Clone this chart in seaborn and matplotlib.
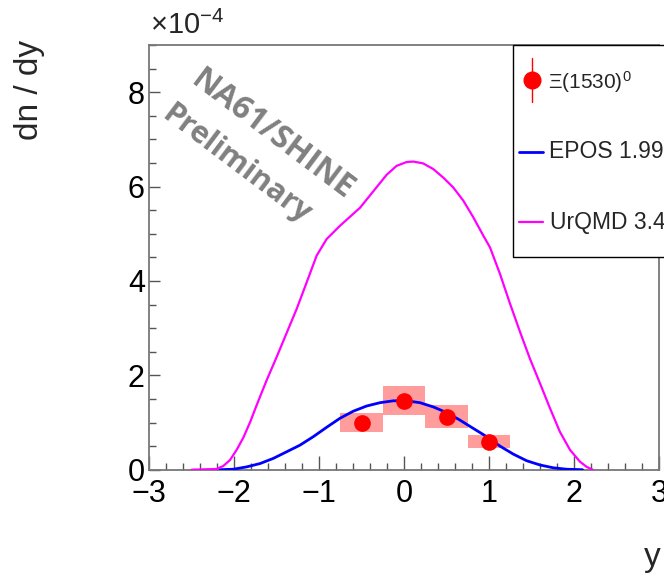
import numpy as np
import pandas as pd
import matplotlib
matplotlib.use("Agg")
import matplotlib.pyplot as plt
from matplotlib.ticker import MultipleLocator
from matplotlib.lines import Line2D
from matplotlib.patches import Rectangle
import seaborn as sns

# ---- data (dn/dy in units of 1e-4) ----
data_y = [-0.5, 0.0, 0.5, 1.0]
data_val = [1.00, 1.465, 1.125, 0.595]
data_stat = [0.04, 0.05, 0.04, 0.03]
data_sys = [0.20, 0.30, 0.245, 0.135]
box_halfwidth = 0.25

epos_x = [-2.165, -2.008, -1.85, -1.694, -1.537, -1.38, -1.224, -1.067, -0.909,
          -0.753, -0.596, -0.439, -0.282, -0.125, 0.031, 0.188, 0.345, 0.502,
          0.659, 0.815, 0.973, 1.129, 1.286, 1.443, 1.6, 1.757, 1.914, 2.10]
epos_v = [0.00, 0.01, 0.06, 0.13, 0.24, 0.38, 0.52, 0.70, 0.90,
          1.09, 1.24, 1.35, 1.42, 1.46, 1.46, 1.42, 1.33, 1.21,
          1.05, 0.875, 0.70, 0.50, 0.33, 0.19, 0.10, 0.04, 0.01, 0.00]

urqmd_x = [-2.498, -2.204, -2.125, -2.047, -1.969, -1.89, -1.81, -1.733, -1.615,
           -1.498, -1.38, -1.262, -1.145, -1.027, -0.909, -0.753, -0.518, -0.361,
           -0.204, -0.086, 0.031, 0.11, 0.227, 0.345, 0.462, 0.58, 0.698, 0.815,
           0.933, 1.012, 1.129, 1.247, 1.365, 1.482, 1.6, 1.718, 1.835, 1.953,
           2.07, 2.149, 2.22]
urqmd_v = [0.00, 0.015, 0.08, 0.205, 0.42, 0.68, 1.01, 1.37, 1.90,
           2.39, 2.90, 3.41, 3.97, 4.54, 4.89, 5.17, 5.55, 5.90,
           6.25, 6.44, 6.52, 6.53, 6.49, 6.37, 6.19, 5.98, 5.70, 5.35,
           4.96, 4.71, 4.15, 3.52, 2.92, 2.35, 1.83, 1.30, 0.80, 0.42,
           0.17, 0.06, 0.00]

label_data = r"$\Xi(1530)^{0}$"
label_epos = "EPOS 1.99"
label_urqmd = "UrQMD 3.4"

# ---- style ----
sns.set_theme(style="white")
plt.rcParams["font.family"] = ["Liberation Sans", "DejaVu Sans"]
plt.rcParams["mathtext.fontset"] = "custom"
plt.rcParams["mathtext.rm"] = "Liberation Sans"
plt.rcParams["mathtext.it"] = "Liberation Sans"

W, H = 664, 576
fig = plt.figure(figsize=(W / 100, H / 100), dpi=100)
ax = fig.add_axes([149 / W, 1 - 469.7 / H, (659 - 149) / W, (469.7 - 45) / H])

# systematic boxes
bottoms = [v - s for v, s in zip(data_val, data_sys)]
heights = [2 * s for s in data_sys]
ax.bar(data_y, heights, bottom=bottoms, width=2 * box_halfwidth,
       color="#ff9d9d", edgecolor="none", zorder=1)

# model curves
sns.lineplot(x=epos_x, y=epos_v, color="#0000ff", linewidth=2.0, ax=ax,
             zorder=3, sort=False)
sns.lineplot(x=urqmd_x, y=urqmd_v, color="#ff00ff", linewidth=1.6, ax=ax,
             zorder=3, sort=False)
for ln in ax.lines:
    ln.set_solid_joinstyle("round")

# data points
ax.errorbar(data_y, data_val, yerr=data_stat, fmt="o", color="#ff0000",
            markersize=11, elinewidth=1, capsize=0, zorder=4)

ax.set_xlim(-3, 3)
ax.set_ylim(0, 9)
ax.xaxis.set_major_locator(MultipleLocator(1))
ax.xaxis.set_minor_locator(MultipleLocator(0.2))
ax.yaxis.set_major_locator(MultipleLocator(2))
ax.yaxis.set_minor_locator(MultipleLocator(0.5))
ax.tick_params(which="both", direction="in", top=False, right=False,
               bottom=True, left=True, colors="black", labelsize=22)
ax.tick_params(axis="x", which="major", length=10, width=1, pad=7,
               color="#555555")
ax.tick_params(axis="x", which="minor", length=5, width=1, color="#555555")
ax.tick_params(axis="y", which="major", length=8, width=1, pad=3,
               color="#555555")
ax.tick_params(axis="y", which="minor", length=5, width=1, color="#555555")
for s in ax.spines.values():
    s.set_color("#777777")
    s.set_linewidth(1.3)
ax.set_xlabel("")
ax.set_ylabel("")

# axis titles
fig.text(45 / W, 1 - 40 / H, "dn / dy", rotation=90, ha="right", va="top",
         fontsize=24)
fig.text(661 / W, 1 - 573 / H, "y", ha="right", va="bottom", fontsize=24)
fig.text(150 / W, 1 - 40 / H, r"$\times10^{-4}$", ha="left", va="bottom",
         fontsize=21)

# preliminary label
fig.text(272 / W, 1 - 135 / H, "NA61/SHINE", rotation=-37,
         rotation_mode="anchor", ha="center", va="center", fontsize=23,
         fontweight="bold", color="#808080", family="Open Sans")
fig.text(236 / W, 1 - 165 / H, "Preliminary", rotation=-37,
         rotation_mode="anchor", ha="center", va="center", fontsize=22,
         fontweight="bold", color="#808080", family="Open Sans")

# legend (drawn in figure pixels)
def fx(p):
    return p / W

def fy(p):
    return 1 - p / H

fig.add_artist(Rectangle((fx(513), fy(257)), fx(720) - fx(513),
                         fy(45) - fy(257), transform=fig.transFigure,
                         facecolor="white", edgecolor="black", linewidth=1.0,
                         zorder=10, clip_on=False))
fig.add_artist(Line2D([fx(532), fx(532)], [fy(58), fy(102)],
                      transform=fig.transFigure, color="#ff0000",
                      linewidth=1.0, zorder=11))
fig.add_artist(Line2D([fx(532)], [fy(80)], transform=fig.transFigure,
                      marker="o", markersize=12, color="#ff0000",
                      linestyle="none", zorder=12))
fig.add_artist(Line2D([fx(519), fx(543)], [fy(152), fy(152)],
                      transform=fig.transFigure, color="#0000ff",
                      linewidth=2.0, zorder=11))
fig.add_artist(Line2D([fx(519), fx(543)], [fy(222), fy(222)],
                      transform=fig.transFigure, color="#ff00ff",
                      linewidth=1.6, zorder=11))
fig.text(fx(548), fy(82), label_data, ha="left", va="center", fontsize=15,
         zorder=12)
fig.text(fx(549), fy(152), label_epos, ha="left", va="center", fontsize=16.5,
         zorder=12)
fig.text(fx(550), fy(222), label_urqmd, ha="left", va="center", fontsize=16.5,
         zorder=12)

fig.savefig("out.png", dpi=100)
